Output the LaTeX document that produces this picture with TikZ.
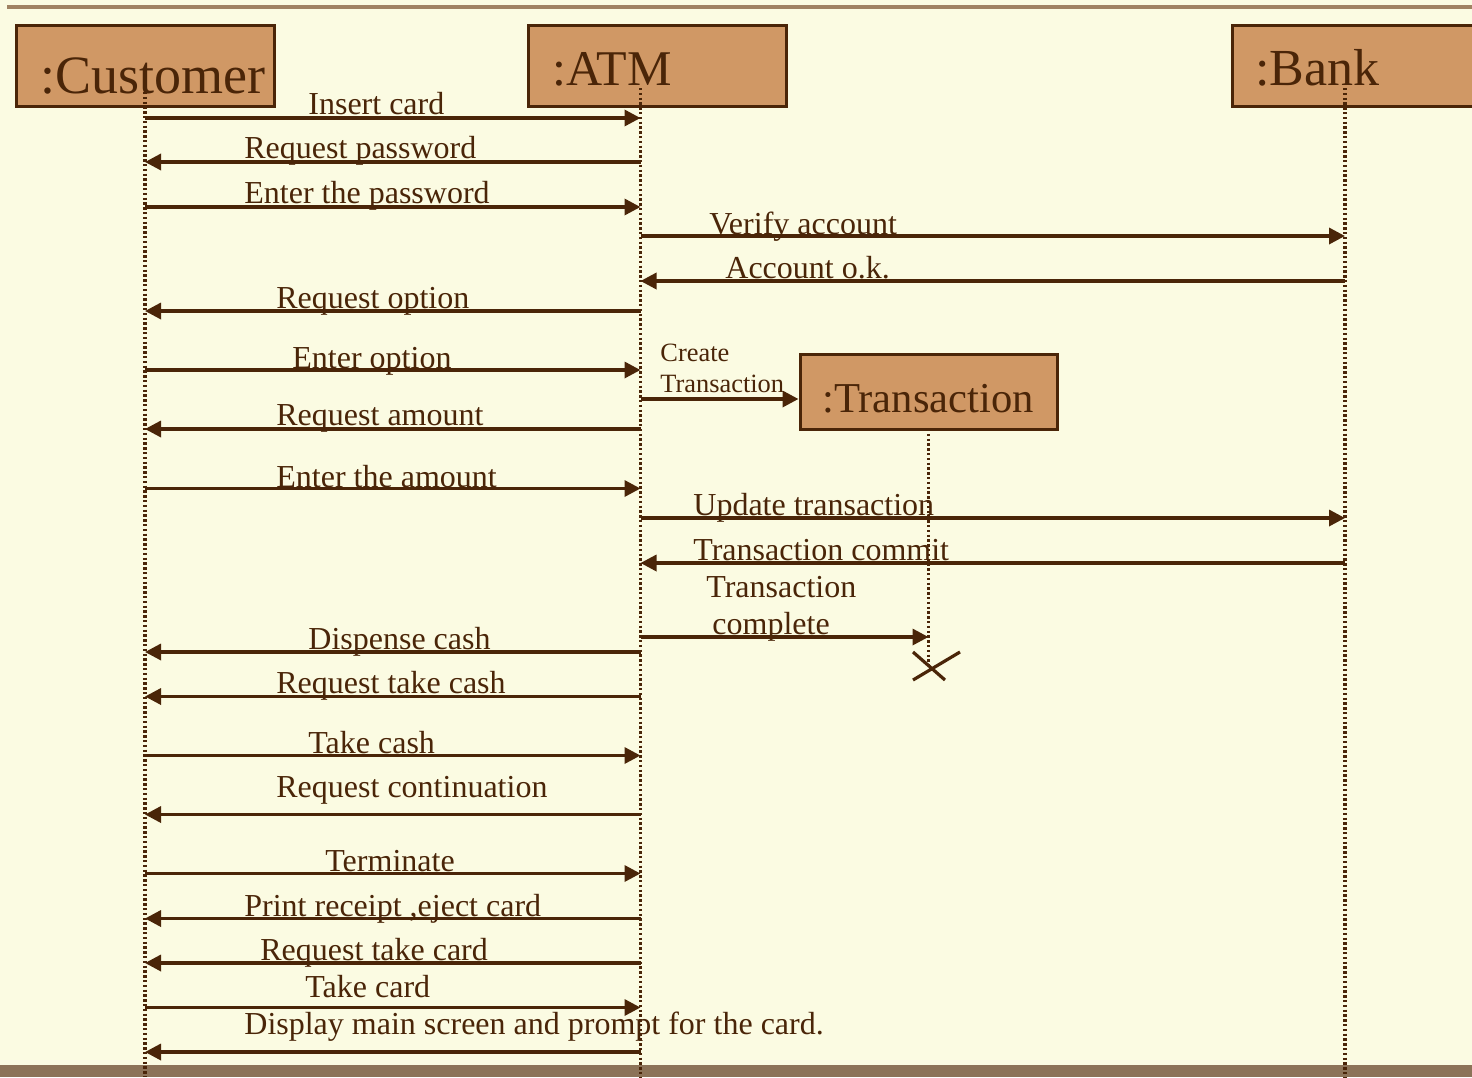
\documentclass[tikz,border=0pt]{standalone}
\usepackage{fontspec}
\setmainfont{Liberation Serif}
\usetikzlibrary{arrows.meta}
\definecolor{paper}{HTML}{FBFBE2}
\definecolor{boxfill}{HTML}{D09865}
\definecolor{ink}{HTML}{4A2508}
\definecolor{rulecol}{HTML}{A08262}
\definecolor{band}{HTML}{8C7358}
\begin{document}
\begin{tikzpicture}[x=0.5pt,y=-0.5pt,
  actor/.style={draw=ink, line width=1.5pt, fill=boxfill, inner sep=0, rectangle},
  title/.style={anchor=base west, inner sep=0, text=ink},
  lifeline/.style={draw=ink, line width=1.8pt, dash pattern=on 1.2pt off 1.2pt},
  msg/.style={draw=ink, line width=1.7pt, -{Triangle[length=8pt,width=8pt]}},
  lbl/.style={anchor=base west, inner sep=0, yshift=-1pt, text=ink, font=\fontsize{16}{18}\selectfont},
  small/.style={anchor=base west, inner sep=0, yshift=-0.5pt, text=ink, font=\fontsize{13.2}{15}\selectfont}]
\useasboundingbox (0,0) rectangle (1472,1077);
\clip (0,0) rectangle (1472,1077);
% page background, top rule and bottom band
\fill[paper] (0,0) rectangle (1472,1077);
\draw[rulecol, line width=1.6pt] (7,7) -- (1472,7);
\fill[band] (0,1065) rectangle (1472,1077);

% object boxes
\node[actor, minimum width=129pt, minimum height=40.5pt] (cbox) at (145,65.5) {};
\node[actor, minimum width=129pt, minimum height=40.5pt] (abox) at (657,65.5) {};
\node[actor, minimum width=129pt, minimum height=40.5pt] (bbox) at (1361,65.5) {};
\node[actor, minimum width=128.5pt, minimum height=37.5pt] (tbox) at (928.5,391.5) {};

\node[title, font=\fontsize{27}{30}\selectfont] (ctitle) at (40,93.5) {:Customer};
\node[title, font=\fontsize{25}{28}\selectfont] (atitle) at (552,85) {:ATM};
\node[title, font=\fontsize{26}{29}\selectfont] (btitle) at (1255,85) {:Bank};
\node[title, font=\fontsize{21.3}{24}\selectfont] (ttitle) at (822,412.5) {:Transaction};

% lifelines
\coordinate (cl) at (145,92);
\coordinate (al) at (640.5,88);
\coordinate (bl) at (1345,88);
\coordinate (tl) at (928.5,429);
\coordinate (cend) at (145,1077);
\coordinate (aend) at (640.5,1077);
\coordinate (bend) at (1345,1077);
\coordinate (tend) at (928.5,666);
\draw[lifeline] (cl) -- (cend);
\draw[lifeline] (al) -- (aend);
\draw[lifeline] (bl) -- (bend);
\draw[lifeline] (tl) -- (tend);

% destruction mark of the transaction
\coordinate (x1) at (913,652);
\coordinate (x2) at (945,680);
\coordinate (x3) at (913,680);
\coordinate (x4) at (960,652);
\draw[ink, line width=1.6pt] (x1) -- (x2) (x3) -- (x4);

% messages
\draw[msg] (cl |- 0,118) -- (al |- 0,118);
\node[lbl] (m1) at (308,112.5) {Insert card};
\draw[msg] (al |- 0,162) -- (cl |- 0,162);
\node[lbl] (m2) at (244,156.7) {Request password};
\draw[msg] (cl |- 0,207) -- (al |- 0,207);
\node[lbl] (m3) at (244,201.7) {Enter the password};
\draw[msg] (al |- 0,236) -- (bl |- 0,236);
\node[lbl] (m4) at (709,232) {Verify account};
\draw[msg] (bl |- 0,281) -- (al |- 0,281);
\node[lbl] (m5) at (725,276) {Account o.k.};
\draw[msg] (al |- 0,311) -- (cl |- 0,311);
\node[lbl] (m6) at (276,306) {Request option};
\draw[msg] (cl |- 0,370) -- (al |- 0,370);
\node[lbl] (m7) at (292,366) {Enter option};
\draw[msg] (al |- 0,399) -- (tbox.west |- 0,399);
\node[small] (m8a) at (660,360) {Create};
\node[small] (m8b) at (660,391.7) {Transaction};
\draw[msg] (al |- 0,429) -- (cl |- 0,429);
\node[lbl] (m9) at (276,423) {Request amount};
\draw[msg] (cl |- 0,488.5) -- (al |- 0,488.5);
\node[lbl] (m10) at (276,485) {Enter the amount};
\draw[msg] (al |- 0,518) -- (bl |- 0,518);
\node[lbl] (m11) at (693,513) {Update transaction};
\draw[msg] (bl |- 0,563) -- (al |- 0,563);
\node[lbl] (m12) at (693,558) {Transaction commit};
\draw[msg] (al |- 0,637) -- (tl |- 0,637);
\node[lbl] (m13a) at (706,595) {Transaction};
\node[lbl] (m13b) at (712,632.7) {complete};
\draw[msg] (al |- 0,652) -- (cl |- 0,652);
\node[lbl] (m14) at (308,647) {Dispense cash};
\draw[msg] (al |- 0,696.5) -- (cl |- 0,696.5);
\node[lbl] (m15) at (276,691) {Request take cash};
\draw[msg] (cl |- 0,755.5) -- (al |- 0,755.5);
\node[lbl] (m16) at (308,751) {Take cash};
\draw[msg] (al |- 0,814.5) -- (cl |- 0,814.5);
\node[lbl] (m17) at (276,795) {Request continuation};
\draw[msg] (cl |- 0,873.5) -- (al |- 0,873.5);
\node[lbl] (m18) at (325,869) {Terminate};
\draw[msg] (al |- 0,918.5) -- (cl |- 0,918.5);
\node[lbl] (m19) at (244,914) {Print receipt ,eject card};
\draw[msg] (al |- 0,963) -- (cl |- 0,963);
\node[lbl] (m20) at (260,958) {Request take card};
\draw[msg] (cl |- 0,1007.5) -- (al |- 0,1007.5);
\node[lbl] (m21) at (305,995) {Take card};
\draw[msg] (al |- 0,1052) -- (cl |- 0,1052);
\node[lbl] (m22) at (244,1032.7) {Display main screen and prompt for the card.};
\end{tikzpicture}
\end{document}
